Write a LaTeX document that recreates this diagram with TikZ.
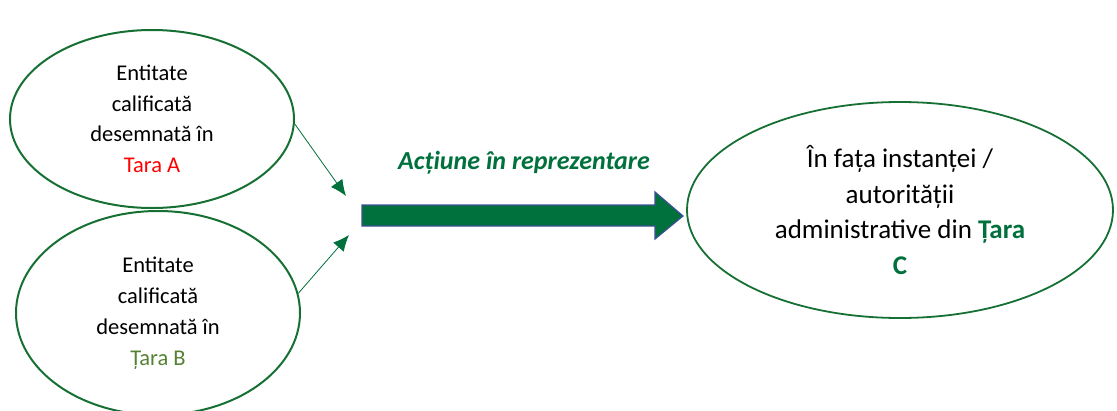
\documentclass[tikz,border=0pt]{standalone}
\usepackage{fontspec}
\setmainfont{Carlito}
\usetikzlibrary{shapes.geometric,arrows.meta,positioning}

\definecolor{ringgreen}{RGB}{22,112,52}
\definecolor{darkgreen}{RGB}{0,112,60}
\definecolor{olivegreen}{RGB}{84,130,53}
\definecolor{arrowblue}{RGB}{60,80,150}

\tikzset{
    entity/.style={ellipse, draw=ringgreen, line width=2pt, align=center, inner sep=0pt},
    smallarrow/.style={draw=darkgreen, line width=0.8pt, -{Latex[length=16pt,width=14pt]}}
}

\begin{document}
\begin{tikzpicture}[x=1pt,y=-1pt]
        \useasboundingbox (0,0) rectangle (1117,410);
        % Entities on the left
        \node[entity, minimum width=284pt, minimum height=178pt,
            font=\fontsize{22.5}{30.5}\selectfont] (tA) at (152,119)
            {Entitate\\calificată\\desemnată în\\\textcolor{red}{Tara A}};
        \node[entity, minimum width=284pt, minimum height=204pt,
            font=\fontsize{22.5}{31}\selectfont] (tB) at (158,313)
            {Entitate\\calificată\\desemnată în\\\textcolor{olivegreen}{Țara B}};
        % Court on the right
        \node[entity, line width=1.8pt, minimum width=426pt, minimum height=216pt,
            font=\fontsize{27}{35.5}\selectfont] (tC) at (900,210)
            {În fața instanței /\\autorității\\administrative din \textbf{\textcolor{darkgreen}{Țara}}\\\textbf{\textcolor{darkgreen}{C}}};
        % Big arrow
        \coordinate (tail) at (362,216);
        \coordinate (tip) at (683,216);
        \filldraw[fill=darkgreen, draw=arrowblue, line width=1.2pt]
            (tail) ++(0,-11) -- ++(293,0) -- ++(0,-13) -- (tip)
            -- ++(-28,23) -- ++(0,-13) -- ++(-293,0) -- cycle;
        \node[font=\fontsize{26}{30}\selectfont\bfseries\itshape, text=darkgreen]
            (label) at (524,163) {Acțiune în reprezentare};
        % Small arrows
        \coordinate (inA) at (346,196);
        \coordinate (inB) at (349,235);
        \draw[smallarrow] (tA.-2) -- (inA);
        \draw[smallarrow] (tB.8) -- (inB);
    \end{tikzpicture}
\end{document}
